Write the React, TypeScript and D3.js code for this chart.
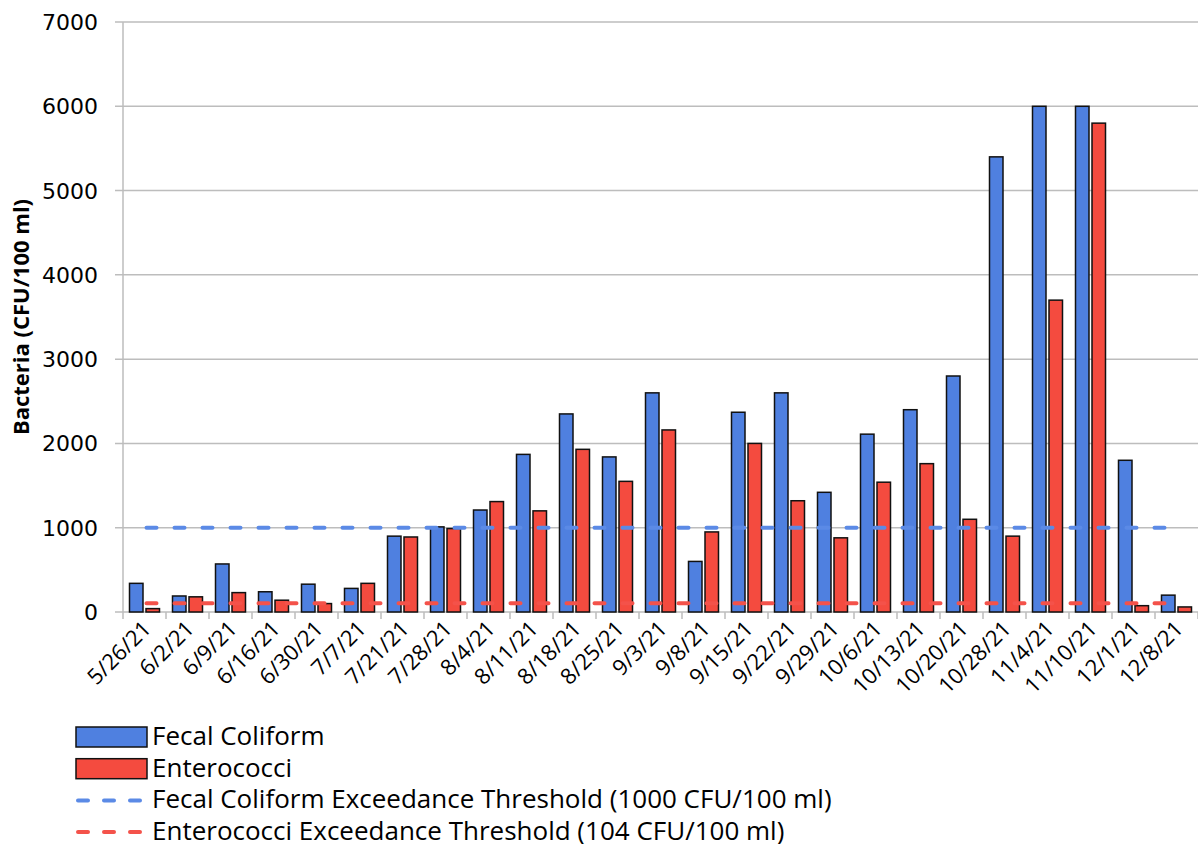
import React from "react";
import * as d3 from "d3";

const dates = ["5/26/21","6/2/21","6/9/21","6/16/21","6/30/21","7/7/21","7/21/21","7/28/21","8/4/21","8/11/21","8/18/21","8/25/21","9/3/21","9/8/21","9/15/21","9/22/21","9/29/21","10/6/21","10/13/21","10/20/21","10/28/21","11/4/21","11/10/21","12/1/21","12/8/21"];
const fecalColiform = [340,190,570,240,330,280,900,1010,1210,1870,2350,1840,2600,600,2370,2600,1420,2110,2400,2800,5400,6000,6000,1800,200];
const enterococci = [40,180,230,140,100,340,890,990,1310,1200,1930,1550,2160,950,2000,1320,880,1540,1760,1100,900,3700,5800,75,60];
const fecalThreshold = 1000;
const enteroThreshold = 104;
const yTicks = [0,1000,2000,3000,4000,5000,6000,7000];
const legendItems = [
  { label: "Fecal Coliform", kind: "bar", color: "#4f80e0" },
  { label: "Enterococci", kind: "bar", color: "#f44b3f" },
  { label: "Fecal Coliform Exceedance Threshold (1000 CFU/100 ml)", kind: "line", color: "#5b8ae6" },
  { label: "Enterococci Exceedance Threshold (104 CFU/100 ml)", kind: "line", color: "#f4524a" },
];

const W = 1198, H = 844;
const left = 123, right = 1198, top = 22, bottom = 612;
const BLUE = "#4f80e0", RED = "#f44b3f";
const narrow = "'Liberation Sans Narrow', 'Open Sans', sans-serif";

export default function App() {
  const x = d3.scaleBand<string>().domain(dates).range([left, right]);
  const y = d3.scaleLinear().domain([0, 7000]).range([bottom, top]);
  const bw = 13.5, gap = 3;
  const c0 = x(dates[0])! + x.bandwidth() / 2;
  const c1 = x(dates[dates.length - 1])! + x.bandwidth() / 2;
  return (
    <>
      <style>{`body{margin:0}`}</style>
      <svg width={W} height={H} style={{ display: "block", background: "#fff" }}>
        {yTicks.map((t) => (
          <g key={t}>
            <line x1={left - 8} x2={right} y1={y(t)} y2={y(t)} stroke="#bdbdbd" strokeWidth={1.5} />
            <text x={98} y={y(t) + 8} textAnchor="end" fontFamily="'DejaVu Sans', sans-serif" fontSize={22} fill="#000">{t}</text>
          </g>
        ))}
        <line x1={left} x2={left} y1={top} y2={bottom} stroke="#bdbdbd" strokeWidth={1.5} />
        {d3.range(dates.length + 1).map((i) => {
          const xx = left + i * x.step();
          return <line key={i} x1={xx} x2={xx} y1={bottom} y2={bottom + 7} stroke="#bdbdbd" strokeWidth={1.5} />;
        })}
        {dates.map((d, i) => {
          const c = x(d)! + x.bandwidth() / 2;
          return (
            <g key={d}>
              <rect x={c - gap / 2 - bw} y={y(fecalColiform[i])} width={bw} height={bottom - y(fecalColiform[i])} fill={BLUE} stroke="#111" strokeWidth={1.5} />
              <rect x={c + gap / 2} y={y(enterococci[i])} width={bw} height={bottom - y(enterococci[i])} fill={RED} stroke="#111" strokeWidth={1.5} />
            </g>
          );
        })}
        <line x1={c0} x2={c1} y1={y(fecalThreshold)} y2={y(fecalThreshold)} stroke="#5b8ae6" strokeWidth={4} strokeDasharray="10 18" strokeLinecap="round" transform="translate(2,0)" />
        <line x1={c0} x2={c1} y1={y(enteroThreshold)} y2={y(enteroThreshold)} stroke="#f4524a" strokeWidth={4} strokeDasharray="10 18" strokeLinecap="round" transform="translate(2,0)" />
        {dates.map((d) => {
          const c = x(d)! + x.bandwidth() / 2;
          return (
            <text key={d} transform={`translate(${c + 8},${bottom + 18}) rotate(-45)`} textAnchor="end" fontFamily={narrow} fontSize={22} fill="#000">{d}</text>
          );
        })}
        <text transform={`translate(29,${(top + bottom) / 2}) rotate(-90)`} textAnchor="middle" fontFamily="'Liberation Sans Narrow', 'Open Sans', sans-serif" fontWeight="bold" fontSize={22} fill="#000">Bacteria (CFU/100 ml)</text>
        {legendItems.map((it, i) => {
          const cy = 737 + i * 31.7;
          return (
            <g key={it.label}>
              {it.kind === "bar" ? (
                <rect x={76} y={cy - 10} width={71} height={20} fill={it.color} stroke="#111" strokeWidth={1.5} />
              ) : (
                <line x1={78} x2={147} y1={cy} y2={cy} stroke={it.color} strokeWidth={4} strokeDasharray="10 16" strokeLinecap="round" />
              )}
              <text x={152} y={cy + 8} fontFamily={narrow} fontSize={26} fill="#000">{it.label}</text>
            </g>
          );
        })}
      </svg>
    </>
  );
}
